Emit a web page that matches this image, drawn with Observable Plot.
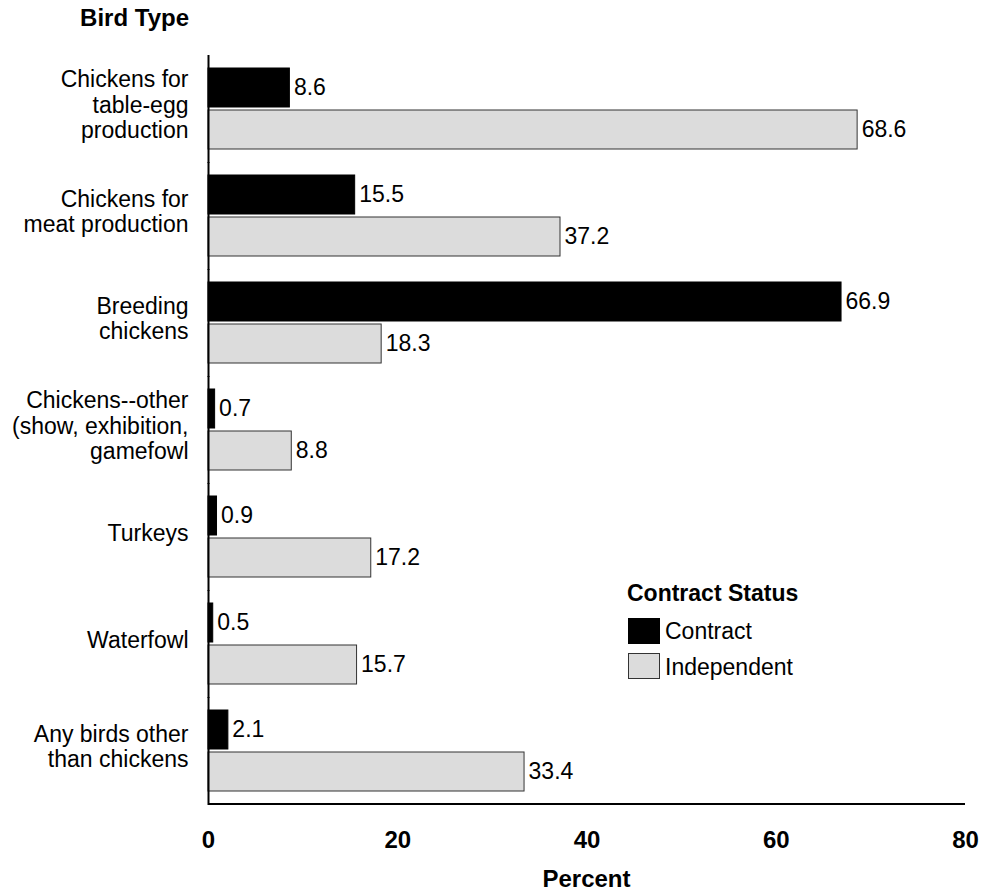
<!DOCTYPE html>
<html>
<head>
<meta charset="utf-8">
<script src="https://cdn.jsdelivr.net/npm/d3@7"></script>
<script src="https://cdn.jsdelivr.net/npm/@observablehq/plot@0.6"></script>
<style>
  body { margin: 0; background: #fff; font-family: "Liberation Sans", Arial, Helvetica, sans-serif; }
  #wrap { position: relative; width: 997px; height: 892px; }
  .ov { position: absolute; font-size: 23px; line-height: 26px; color: #000; white-space: nowrap; }
  .b { font-weight: bold; }
  .sw { position: absolute; width: 32px; height: 26px; box-sizing: border-box; }
</style>
</head>
<body>
<div id="wrap"></div>
<script>
const categories = [
  "Chickens for\ntable-egg\nproduction",
  "Chickens for\nmeat production",
  "Breeding\nchickens",
  "Chickens--other\n(show, exhibition,\ngamefowl",
  "Turkeys",
  "Waterfowl",
  "Any birds other\nthan chickens"
];
const statuses = ["Contract", "Independent"];
const contractValues = [8.6, 15.5, 66.9, 0.7, 0.9, 0.5, 2.1];
const independentValues = [68.6, 37.2, 18.3, 8.8, 17.2, 15.7, 33.4];
const xTicks = [0, 20, 40, 60, 80];
const colors = ["#000000", "#dcdcdc"];

const data = [];
categories.forEach((c, i) => {
  data.push({cat: c, status: statuses[0], value: contractValues[i]});
  data.push({cat: c, status: statuses[1], value: independentValues[i]});
});
const catRows = categories.map(c => ({cat: c}));
const lastCat = categories[categories.length - 1];

const font = "Liberation Sans, Arial, Helvetica, sans-serif";

const chart = Plot.plot({
  width: 997,
  height: 892,
  marginTop: 53,
  marginBottom: 84,
  marginLeft: 208,
  marginRight: 32,
  style: {fontFamily: font, fontSize: "23px", color: "#000", background: "#fff"},
  x: {domain: [0, 80], axis: null},
  y: {domain: statuses, axis: null, paddingInner: 0.07, paddingOuter: 0},
  fy: {domain: categories, axis: null, paddingInner: 0.23, paddingOuter: 0.115},
  color: {domain: statuses, range: colors},
  marks: [
    Plot.barX(data, {
      x: "value", y: "status", fy: "cat",
      fill: "status",
      stroke: d => d.status === statuses[0] ? "#000" : "#333",
      strokeWidth: 1
    }),
    Plot.text(data, {
      x: "value", y: "status", fy: "cat",
      text: d => d.value.toFixed(1),
      textAnchor: "start", dx: 4, fontSize: 23, fill: "#000"
    }),
    Plot.text(catRows, {
      fy: "cat", text: "cat", frameAnchor: "left",
      textAnchor: "end", dx: -20, dy: -5, lineHeight: 1.1, fontSize: 23, fill: "#000"
    }),
    Plot.ruleX(catRows, {
      x: () => 0, fy: "cat", stroke: "#000", strokeWidth: 2,
      insetTop: -13, insetBottom: -13
    }),
    Plot.ruleY([{cat: lastCat, status: statuses[1]}], {
      y: "status", fy: "cat", x1: () => 0, x2: () => 80,
      stroke: "#000", strokeWidth: 2, dy: 32
    }),
    Plot.axisX(xTicks, {
      anchor: "bottom", tickSize: 0, tickPadding: 38,
      fontSize: 24, fontWeight: "bold", label: null, tickFormat: d => d
    })
  ]
});

const wrap = document.getElementById("wrap");
wrap.appendChild(chart);

function ov(html, css, cls) {
  const d = document.createElement("div");
  d.className = cls;
  d.innerHTML = html;
  Object.assign(d.style, css);
  wrap.appendChild(d);
  return d;
}
ov("Bird Type", {right: (997 - 189) + "px", top: "5px", fontSize: "24px"}, "ov b");
ov("Percent", {left: "0px", width: (586.5 * 2) + "px", textAlign: "center", top: "866px", fontSize: "24px"}, "ov b");
ov("Contract Status", {left: "627px", top: "580px", fontSize: "23px"}, "ov b");
ov("", {left: "628px", top: "618px", background: colors[0]}, "sw");
ov("", {left: "628px", top: "653px", background: colors[1], border: "1px solid #333"}, "sw");
ov(statuses[0], {left: "665px", top: "618px"}, "ov");
ov(statuses[1], {left: "665px", top: "654px"}, "ov");
</script>
</body>
</html>
